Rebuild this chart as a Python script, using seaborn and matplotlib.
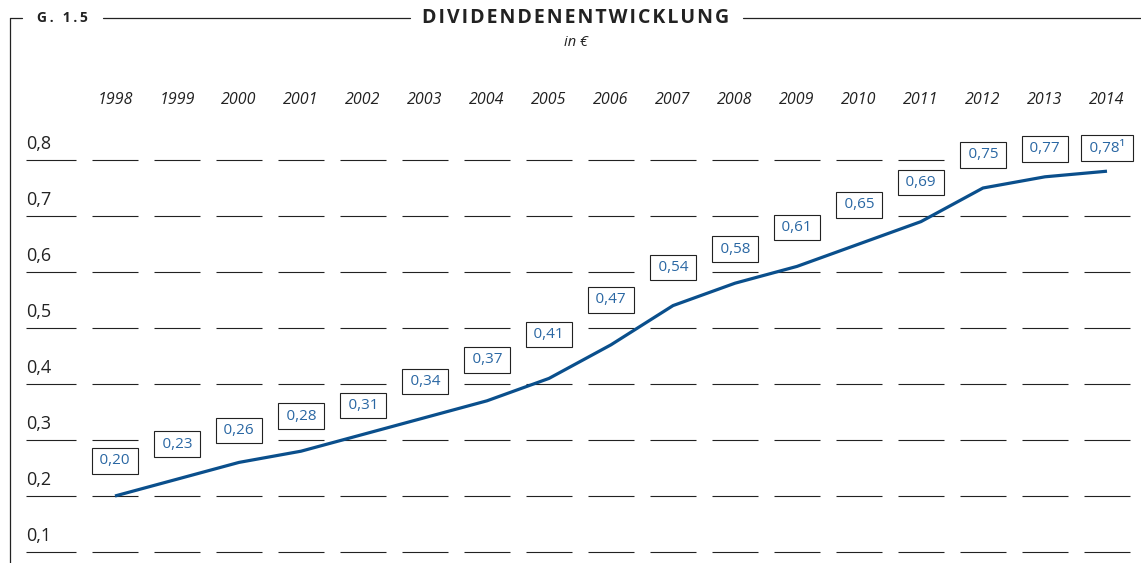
import matplotlib.pyplot as plt
from matplotlib.lines import Line2D
import matplotlib.transforms as mtransforms
import seaborn as sns
import pandas as pd

years = [1998, 1999, 2000, 2001, 2002, 2003, 2004, 2005, 2006,
         2007, 2008, 2009, 2010, 2011, 2012, 2013, 2014]
dividends = [0.20, 0.23, 0.26, 0.28, 0.31, 0.34, 0.37, 0.41, 0.47,
             0.54, 0.58, 0.61, 0.65, 0.69, 0.75, 0.77, 0.78]
value_labels = ['0,20', '0,23', '0,26', '0,28', '0,31', '0,34', '0,37', '0,41', '0,47',
                '0,54', '0,58', '0,61', '0,65', '0,69', '0,75', '0,77', '0,78\u00b9']
grid_levels = [0.1, 0.2, 0.3, 0.4, 0.5, 0.6, 0.7, 0.8]
grid_labels = ['0,1', '0,2', '0,3', '0,4', '0,5', '0,6', '0,7', '0,8']

LINE_BLUE = '#0a4f8c'
TEXT_BLUE = '#2a67a3'
DARK = '#222222'

W, H = 1141, 563
sns.set_theme(style='white')
plt.rcParams['font.family'] = ['Open Sans', 'DejaVu Sans']

fig = plt.figure(figsize=(W / 100, H / 100), dpi=100)
ax = fig.add_axes([0, 0, 1, 1])
ax.set_axis_off()

# pixel layout: year i centred at 115 + 62*i, value v at 496 - (v-0.2)*560
ax.set_xlim((0 - 115) / 62, (W - 115) / 62)
ax.set_ylim(0.2 - (H - 496) / 560, 0.2 + 496 / 560)

df = pd.DataFrame({'idx': range(len(years)), 'value': dividends})
sns.lineplot(data=df, x='idx', y='value', ax=ax, color=LINE_BLUE, lw=2.3,
             solid_capstyle='butt', zorder=3)

# dashed row lines
lab_x0, lab_x1 = (26 - 115) / 62, (76 - 115) / 62
for lev, lab in zip(grid_levels, grid_labels):
    ax.hlines(lev, lab_x0, lab_x1, color=DARK, lw=0.8)
    for i in range(len(years)):
        ax.hlines(lev, i - 0.371, i + 0.371, color=DARK, lw=0.8)
    ax.annotate(lab, (lab_x0, lev), xytext=(0, 5), textcoords='offset points',
                ha='left', va='bottom', fontsize=13, color=DARK)

# year labels
trans = mtransforms.blended_transform_factory(ax.transData, ax.transAxes)
for i, yr in enumerate(years):
    ax.text(i, 1 - 100 / H, str(yr), transform=trans, ha='center', va='center',
            fontsize=11.5, style='italic', color=DARK)

# boxed value labels (offset in px above the point)
offsets = [35, 35, 32, 35, 29, 36, 41, 44, 45, 38, 34, 39, 39, 39, 33, 28, 23]
for i, (v, lab) in enumerate(zip(dividends, value_labels)):
    ax.annotate('\u2009' + lab + '\u2009', (i, v), xytext=(0, offsets[i] * 0.72),
                textcoords='offset points', ha='center', va='center',
                fontsize=11, color=TEXT_BLUE,
                bbox=dict(boxstyle='square,pad=0.35', fc='white', ec=DARK, lw=0.8),
                zorder=4)

# frame and title
def fline(x0, y0, x1, y1):
    fig.add_artist(Line2D([x0 / W, x1 / W], [1 - y0 / H, 1 - y1 / H],
                          color=DARK, lw=0.9, transform=fig.transFigure))

fline(10, 18, 10, H)
fline(10, 18, 22, 18)
fline(103, 18, 410, 18)
fline(743, 18, W, 18)

fig.text(37 / W, 1 - 18 / H, '\u2009'.join('G. 1.5'),
         ha='left', va='center', fontsize=10, fontweight='bold', color=DARK)
fig.text(576 / W, 1 - 18 / H, '\u200a'.join('DIVIDENDENENTWICKLUNG'),
         ha='center', va='center', fontsize=14, fontweight='bold', color=DARK)
fig.text(576 / W, 1 - 43 / H, 'in €', ha='center', va='center',
         fontsize=10.5, style='italic', color=DARK)

plt.savefig('out.png', dpi=100)
plt.close()
